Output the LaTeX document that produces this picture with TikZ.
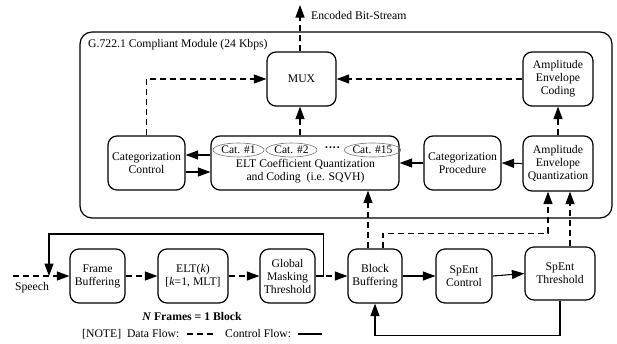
\documentclass[tikz,border=0pt]{standalone}
\usepackage{fontspec}
\setmainfont{Liberation Serif}
\usetikzlibrary{arrows.meta,shapes.geometric}

\tikzset{
  blk/.style={draw, line width=1.2pt, rounded corners=9pt, align=center,
    inner sep=0pt, font=\fontsize{11.7}{13}\selectfont},
  catl/.style={draw=black!55, line width=0.6pt, ellipse, inner sep=0pt,
    minimum height=14pt, font=\fontsize{11.5}{13}\selectfont},
  txt/.style={inner sep=0pt, font=\fontsize{11.7}{13}\selectfont, align=center},
  tip/.style={-{Triangle[length=12.5pt,width=9pt]}},
  data/.style={line width=1.1pt, dash pattern=on 6pt off 4pt, tip},
  ctrl/.style={line width=1.1pt, tip},
}

\begin{document}
\begin{tikzpicture}[x=1pt,y=-1pt]
\useasboundingbox (0,0) rectangle (617,343);

% encoder module frame
\node[draw, line width=1.2pt, rounded corners=12pt, minimum width=532pt,
  minimum height=186pt, inner sep=0pt] (module) at (346,125) {};
\node[txt, anchor=west] (title) at (88,45) {G.722.1 Compliant Module (24 Kbps)};

% blocks inside the module
\node[blk, minimum width=69pt, minimum height=54pt] (mux) at (301.5,79) {MUX};
\node[blk, minimum width=70pt, minimum height=54pt] (aec) at (558,79)
  {Amplitude\\Envelope\\Coding};
\node[blk, minimum width=77pt, minimum height=54pt] (cc) at (146.5,163)
  {Categorization\\Control};
\node[blk, minimum width=188pt, minimum height=54pt] (elt) at (305,163) {};
\node[blk, minimum width=77pt, minimum height=54pt] (cp) at (462.5,163)
  {Categorization\\Procedure};
\node[blk, minimum width=70pt, minimum height=55pt] (aeq) at (558,163.5)
  {Amplitude\\Envelope\\Quantization};

% categories inside the quantization block
\node[catl, minimum width=51pt] (cat1) at (238.5,150) {Cat. \#1};
\node[catl, minimum width=51pt] (cat2) at (291.5,150) {Cat. \#2};
\node[txt] (catdots) at (332.5,149) {\textbf{····}};
\node[catl, minimum width=49pt] (cat15) at (372.5,150) {Cat. \#15};
\node[txt] (eltlabel) at (305.5,171)
  {ELT Coefficient Quantization\\and Coding\ \ (i.e. SQVH)};

% frame / block processing chain
\node[blk, minimum width=55pt, minimum height=54pt] (fb) at (97.5,276)
  {Frame\\Buffering};
\node[blk, minimum width=70pt, minimum height=54pt] (eltk) at (193,276)
  {ELT(\textit{k})\\{[}\textit{k}=1, MLT]};
\node[blk, minimum width=55pt, minimum height=54pt] (gmt) at (287.5,276)
  {Global\\Masking\\Threshold};
\node[blk, minimum width=54pt, minimum height=54pt] (bb) at (375,276)
  {Block\\Buffering};
\node[blk, minimum width=56pt, minimum height=54pt] (sc) at (464,276)
  {SpEnt\\Control};
\node[blk, minimum width=70pt, minimum height=53pt] (st) at (560,273.5)
  {SpEnt\\Threshold};

% output stream
\coordinate (bsout) at (300,5);
\draw[data] (mux.north -| bsout) -- (bsout);
\node[txt, anchor=west] (bslabel) at (311,15) {Encoded Bit-Stream};

% connections inside the module
\draw[data] (cc.north) |- (mux.west);
\draw[data] (elt.north -| bsout) -- (mux.south -| bsout);
\draw[data] (aec.west) -- (mux.east);
\draw[data] (aeq.north) -- (aec.south);
\draw[ctrl] (aeq.west) -- (cp.east);
\draw[ctrl] (cp.west) -- (elt.east);
\draw[ctrl] (elt.west |- 0,155) -- (cc.east |- 0,155);
\draw[ctrl] (cc.east |- 0,172) -- (elt.west |- 0,172);

% input chain
\coordinate (speechin) at (13,276);
\coordinate (fbk) at (49,276);
\draw[data] (speechin) -- (fb.west);
\node[txt] (speechlabel) at (32,288) {Speech};
\draw[data] (fb.east) -- (eltk.west);
\draw[data] (eltk.east) -- (gmt.west);
\draw[data] (gmt.east) -- (bb.west);
\draw[ctrl] (gmt.east) -- ++(8,0) -- ++(0,-42) -| (fbk);
\draw[ctrl] (bb.east) -- (sc.west);
\draw[ctrl] (sc.east) -- (st.west);
\draw[ctrl] (st.south) -- ++(0,35) -| (bb.south);

% block data feeding the module
\draw[data] ([xshift=-7pt]bb.north) -- ([xshift=-7pt]bb.north |- elt.south);
\draw[data] ([xshift=8pt]bb.north) -- ++(0,-15) -| ([xshift=-10pt]aeq.south);
\draw[data] ([xshift=10pt]st.north) -- ([xshift=10pt]st.north |- aeq.south);

% captions and legend
\node[txt] (blocknote) at (192,316) {\textbf{\textit{N} Frames = 1 Block}};
\node[txt, anchor=west] (notelabel) at (82,334) {[NOTE]\ \ Data Flow:};
\coordinate (dleg1) at (187,334);
\coordinate (dleg2) at (215,334);
\draw[line width=1.1pt, dash pattern=on 6pt off 4pt] (dleg1) -- (dleg2);
\node[txt, anchor=west] (ctrllabel) at (225,334) {Control Flow:};
\coordinate (cleg1) at (298,334);
\coordinate (cleg2) at (322,334);
\draw[line width=1.1pt] (cleg1) -- (cleg2);
\end{tikzpicture}
\end{document}
